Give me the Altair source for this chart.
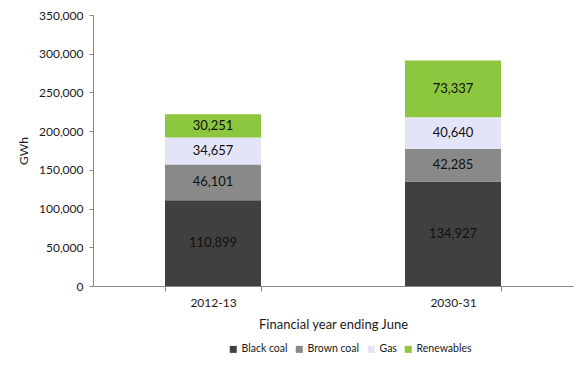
import altair as alt
import pandas as pd

years = ["2012-13", "2030-31"]
fuels = ["Black coal", "Brown coal", "Gas", "Renewables"]
black_coal = [110899, 134927]
brown_coal = [46101, 42285]
gas = [34657, 40640]
renewables = [30251, 73337]
colors = ["#404040", "#898989", "#E4E4F8", "#8DC73F"]
y_ticks = [0, 50000, 100000, 150000, 200000, 250000, 300000, 350000]

rows = []
for series, name in zip([black_coal, brown_coal, gas, renewables], fuels):
    for yr, v in zip(years, series):
        rows.append({"year": yr, "fuel": name, "value": v, "order": fuels.index(name)})
df = pd.DataFrame(rows)

FONT = "Lato"
y_scale = alt.Scale(domain=[0, 350000], nice=False)
y_axis = alt.Axis(
    title="GWh",
    values=y_ticks,
    format=",.0f",
    grid=False,
    tickSize=4,
    labelPadding=6,
    titlePadding=8,
    domainColor="#888888",
    tickColor="#888888",
    labelFont=FONT, labelFontSize=12, labelColor="#1a1a1a",
    titleFont=FONT, titleFontSize=12, titleFontWeight="normal", titleColor="#1a1a1a",
)

base = alt.Chart(df)

x_enc = alt.X(
    "year:N",
    sort=years,
    scale=alt.Scale(paddingInner=0.6, paddingOuter=0.3),
    axis=alt.Axis(
        title="Financial year ending June",
        labelAngle=0,
        tickBand="extent",
        tickSize=5,
        labelPadding=6,
        titlePadding=10,
        domainColor="#888888",
        tickColor="#888888",
        labelFont=FONT, labelFontSize=12, labelColor="#1a1a1a",
        titleFont=FONT, titleFontSize=13, titleFontWeight="normal", titleColor="#1a1a1a",
    ),
)

bars = base.mark_bar(size=96).encode(
    x=x_enc,
    y=alt.Y("value:Q", stack="zero", scale=y_scale, axis=y_axis),
    color=alt.Color(
        "fuel:N",
        sort=fuels,
        scale=alt.Scale(domain=fuels, range=colors),
        legend=alt.Legend(
            title=None,
            orient="none",
            direction="horizontal",
            legendX=135,
            legendY=329,
            symbolType="square",
            symbolSize=49,
            symbolStrokeWidth=0,
            labelFont=FONT,
            labelFontSize=10.5,
            labelColor="#1a1a1a",
            labelOffset=3,
            columnPadding=6,
        ),
    ),
    order=alt.Order("order:Q", sort="ascending"),
)

labels = base.transform_stack(
    stack="value",
    groupby=["year"],
    sort=[alt.SortField("order", order="ascending")],
    as_=["v0", "v1"],
).transform_calculate(
    mid="(datum.v0 + datum.v1) / 2"
).mark_text(font=FONT, fontSize=13, color="#111111", baseline="middle").encode(
    x=x_enc,
    y=alt.Y("mid:Q", scale=y_scale, axis=y_axis),
    text=alt.Text("value:Q", format=",.0f"),
)

chart = (
    alt.layer(bars, labels)
    .properties(
        width=480,
        height=271,
        autosize=alt.AutoSizeParams(type="none"),
        padding={"left": 85, "top": 7, "right": 5, "bottom": 80},
    )
    .configure_view(stroke=None)
)

chart.save("out.html", embed_options={"renderer": "svg", "actions": False})
